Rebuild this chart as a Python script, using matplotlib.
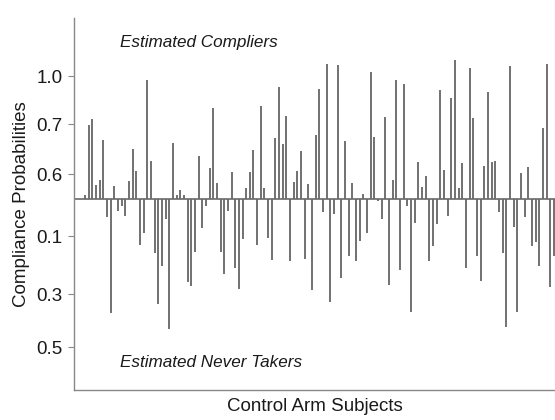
import numpy as np
import matplotlib.pyplot as plt

plt.rcParams['font.family'] = ['Liberation Sans', 'DejaVu Sans']

# bar heights (positive = compliers, negative = never takers),
# in the figure's own display units (baseline = 0)
heights = [
    4, 74, 80, 14, 19, 59, -18, -114, 13, -12, -7, -17, 18, 50, 28, -46, -34, 119, 38,
    -54, -105, -67, -20, -130, 56, 4, 9, 4, -83,
    -87, -53, 43, -29, -7, 31, 91, 16, -53, -75, -12, 27, -69, -90, -40, 11, 27, 49,
    -46, 93, 11, -39, -61, 61, 112, 55, 83, -62, 17, 28, 48, -60, 15,
    -91, 64, 110, -13, 135, -103, -15, 134, -79, 58, -57, 16, -62, -42, 5, -34, 127,
    62, -2, -20, 82, -86, 19, 119, -71, 115, -7, -113, -24, 37, 12, 23, -62,
    -47, -25, 109, 29, -17, 101, 139, 11, 36, -69, 131, 81, -57, -82, 33, 107, 37, 38,
    -13, -54, -128, 133, -28, -113, 26, -18, 32, -47, -43, -67, 71, 135, -88, -57,
]

tick_pos = [123, 75, 25, -37, -95, -148]
tick_labels = ['1.0', '0.7', '0.6', '0.1', '0.3', '0.5']

x = np.arange(len(heights))
h = np.array(heights)

fig = plt.figure(figsize=(5.55, 4.2), dpi=100)
ax = fig.add_axes([0.1333, 0.0714, 0.8667, 0.8856])

ax.vlines(x, 0, h, color='#4a4a4a', linewidth=1.1)
ax.axhline(0, color='#6a6a6a', linewidth=1.2)

ax.set_xlim(-3.0, len(heights) - 0.7)
ax.set_ylim(-191, 181)

ax.set_yticks(tick_pos)
ax.set_yticklabels(tick_labels, fontsize=13.5, color='#1a1a1a')
ax.set_xticks([])
ax.tick_params(axis='y', length=4, width=0.8, color='#888888', pad=4)

for s in ['top', 'right']:
    ax.spines[s].set_visible(False)
for s in ['left', 'bottom']:
    ax.spines[s].set_color('#888888')
    ax.spines[s].set_linewidth(1.0)

ax.set_ylabel('Compliance Probabilities', fontsize=13.5, color='#1a1a1a', labelpad=5)
ax.set_xlabel('Control Arm Subjects', fontsize=13.5, color='#1a1a1a', labelpad=6)

ax.text(0.095, 0.935, 'Estimated Compliers', transform=ax.transAxes, fontsize=12.3,
        style='italic', color='#1a1a1a', va='center')
ax.text(0.095, 0.073, 'Estimated Never Takers', transform=ax.transAxes, fontsize=12.3,
        style='italic', color='#1a1a1a', va='center')

fig.savefig('out.png', dpi=100)
